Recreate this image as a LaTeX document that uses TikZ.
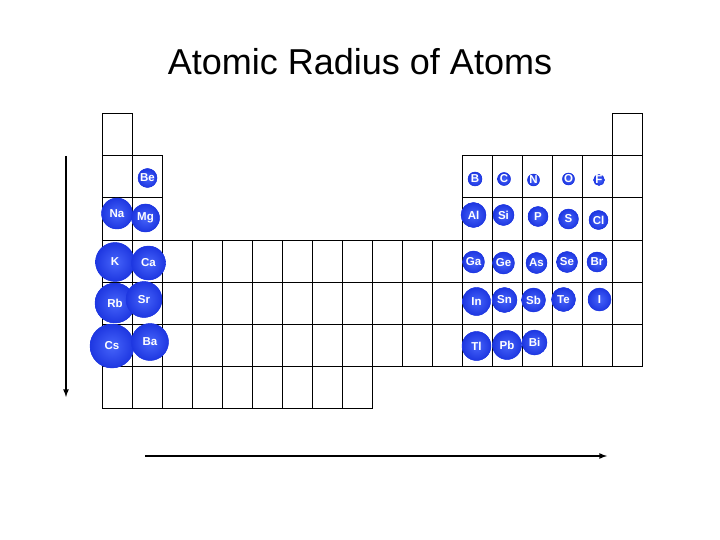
\documentclass[tikz,border=0pt]{standalone}
\usepackage{fontspec}
\setmainfont{Liberation Sans}
\usepackage{xcolor}
\usepackage{tikz}
\usetikzlibrary{arrows}
\usetikzlibrary{shapes}

\definecolor{ballin}{RGB}{70,100,250}
\definecolor{ballout}{RGB}{30,55,225}

\tikzset{
  cell/.style={draw=black, line width=1pt},
  atom/.style={circle, inner sep=0pt, fill=ballout, draw=ballout, line width=0.4pt, shading=radial, inner color=ballin, outer color=ballout, text=white, font=\fontsize{11.5}{12}\selectfont\bfseries},
  trend/.style={-latex, line width=1.6pt, draw=black}
}

\begin{document}
\begin{tikzpicture}[x=1pt, y=-1pt]
\useasboundingbox (0,0) rectangle (720,540);
\node [text=black, font=\fontsize{36}{40}\selectfont] (title) at (360,62) {Atomic Radius of Atoms};

% table cells
\foreach \c in {1,18} {\draw [cell] ({102+30*(\c-1)},114) rectangle +(30,42);}
\foreach \r in {2,3} {
  \foreach \c in {1,2,13,14,15,16,17,18} {\draw [cell] ({102+30*(\c-1)},{114+42*(\r-1)}) rectangle +(30,42);}
}
\foreach \r in {4,5,6} {
  \foreach \c in {1,...,18} {\draw [cell] ({102+30*(\c-1)},{114+42*(\r-1)}) rectangle +(30,42);}
}
\foreach \c in {1,...,9} {\draw [cell] ({102+30*(\c-1)},366) rectangle +(30,42);}

% group 1 and 2
\node [atom, minimum size=19pt] (Be) at (147.5,178) {Be};
\node [atom, minimum size=31pt] (Na) at (117,213.5) {Na};
\node [atom, minimum size=28pt] (Mg) at (145.5,218) {Mg};
\node [atom, minimum size=39pt] (K) at (115,262) {K};
\node [atom, minimum size=34pt] (Ca) at (148.5,263) {Ca};
\node [atom, minimum size=40pt] (Rb) at (115,303) {Rb};
\node [atom, minimum size=36pt] (Sr) at (144,299.5) {Sr};
\node [atom, minimum size=44pt] (Cs) at (112,346) {Cs};
\node [atom, minimum size=37pt] (Ba) at (150,342) {Ba};

% p block
\node [atom, minimum size=14pt] (B) at (475,179) {B};
\node [atom, minimum size=13pt] (C) at (504,179) {C};
\node [atom, minimum size=12pt] (N) at (533.5,180) {N};
\node [atom, minimum size=11pt] (O) at (568.5,179) {O};
\node [atom, minimum size=11pt] (F) at (599,180) {F};
\node [atom, minimum size=25pt] (Al) at (473.5,215) {Al};
\node [atom, minimum size=21pt] (Si) at (503.5,215) {Si};
\node [atom, minimum size=20pt] (P) at (538,216.5) {P};
\node [atom, minimum size=20pt] (S) at (568.5,219) {S};
\node [atom, minimum size=19pt] (Cl) at (598.5,220) {Cl};
\node [atom, minimum size=22pt] (Ga) at (473.5,262) {Ga};
\node [atom, minimum size=22pt] (Ge) at (503.5,263) {Ge};
\node [atom, minimum size=21pt] (As) at (536.5,263) {As};
\node [atom, minimum size=21pt] (Se) at (567,262) {Se};
\node [atom, minimum size=20pt] (Br) at (597,262) {Br};
\node [atom, minimum size=28pt] (In) at (476.5,301.5) {In};
\node [atom, minimum size=25pt] (Sn) at (504.5,300) {Sn};
\node [atom, minimum size=24pt] (Sb) at (533.5,300) {Sb};
\node [atom, minimum size=24pt] (Te) at (563.5,299.5) {Te};
\node [atom, minimum size=23pt] (I) at (599.5,299.5) {I};
\node [atom, minimum size=29pt] (Tl) at (476.5,346) {Tl};
\node [atom, minimum size=29pt] (Pb) at (507,345) {Pb};
\node [atom, minimum size=25pt] (Bi) at (534.5,342.5) {Bi};

% trend arrows
\coordinate (downtop) at (66,156);
\coordinate (downend) at (66,397);
\coordinate (acrossstart) at (145,456);
\coordinate (acrossend) at (607,456);
\draw [trend] (downtop) to (downend);
\draw [trend] (acrossstart) to (acrossend);
\end{tikzpicture}
\end{document}
